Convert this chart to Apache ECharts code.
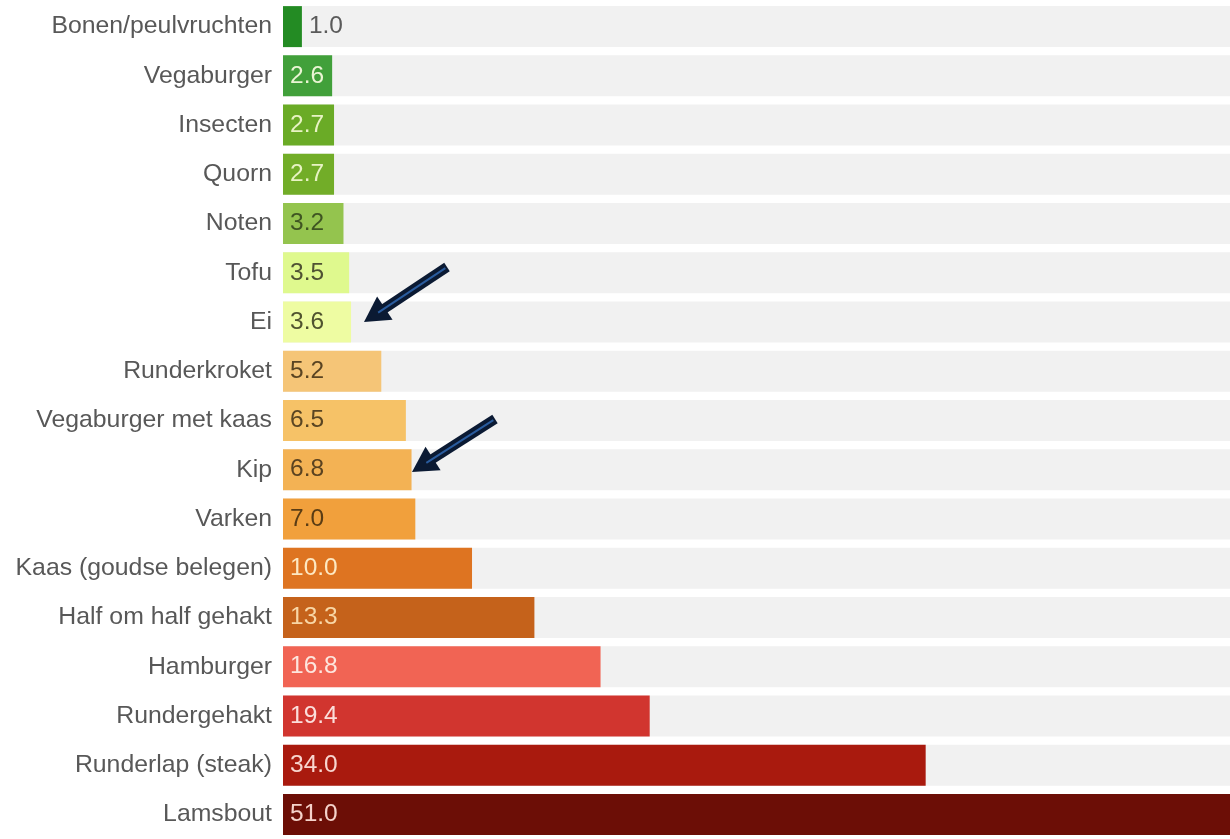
<!DOCTYPE html>
<html>
<head>
<meta charset="utf-8">
<script src="https://cdn.jsdelivr.net/npm/echarts@6/dist/echarts.min.js"></script>
<style>
  html, body { margin: 0; padding: 0; background: #ffffff; }
  #chart { width: 1230px; height: 839px; }
</style>
</head>
<body>
<div id="chart"></div>
<script>
// ---- data ----
const categories = [
  'Bonen/peulvruchten', 'Vegaburger', 'Insecten', 'Quorn', 'Noten', 'Tofu', 'Ei',
  'Runderkroket', 'Vegaburger met kaas', 'Kip', 'Varken', 'Kaas (goudse belegen)',
  'Half om half gehakt', 'Hamburger', 'Rundergehakt', 'Runderlap (steak)', 'Lamsbout'
];
const values = [1.0, 2.6, 2.7, 2.7, 3.2, 3.5, 3.6, 5.2, 6.5, 6.8, 7.0, 10.0, 13.3, 16.8, 19.4, 34.0, 51.0];

// ---- styles ----
const barColors = [
  '#238b23', '#41a03a', '#6aab26', '#72ad28', '#94c44e', '#dff98e', '#eefca2',
  '#f5c577', '#f6c267', '#f3b254', '#f1a03c', '#de7421', '#c5621b',
  '#f16454', '#d1352f', '#a91a0e', '#6c0e06'
];
const labelColors = [
  '#5a5a5a', '#eaf5d4', '#e8f3c4', '#e8f3c4', '#3f5522', '#4f5233', '#50532f',
  '#5a4422', '#5a4522', '#5a4220', '#5a3c14', '#fde8c2', '#f8d6a6',
  '#fde6de', '#fbdedb', '#f8d6cf', '#f5d2ca'
];
const outsideLabel = [true, false, false, false, false, false, false, false, false, false, false, false, false, false, false, false, false];

const FONT = "'Liberation Sans', Arial, sans-serif";

const chart = echarts.init(document.getElementById('chart'), null, { renderer: 'canvas' });

const seriesData = values.map((v, i) => ({
  value: v,
  itemStyle: { color: barColors[i] },
  label: {
    position: outsideLabel[i] ? 'right' : 'insideLeft',
    distance: 7,
    color: labelColors[i]
  }
}));

function arrow(tail, tip) {
  const dx = tip[0] - tail[0], dy = tip[1] - tail[1];
  const len = Math.sqrt(dx * dx + dy * dy);
  const ux = dx / len, uy = dy / len;
  const nx = -uy, ny = ux;
  const hl = 25, hw = 14;
  const bx = tip[0] - ux * hl, by = tip[1] - uy * hl;
  return [
    { type: 'line', shape: { x1: tail[0], y1: tail[1], x2: bx + ux * 2, y2: by + uy * 2 },
      style: { stroke: '#0b1a33', lineWidth: 10, lineCap: 'butt' }, z: 100 },
    { type: 'polygon', shape: { points: [[tip[0], tip[1]], [bx + nx * hw, by + ny * hw], [bx - nx * hw, by - ny * hw]] },
      style: { fill: '#0b1a33' }, z: 101 },
    { type: 'line', shape: { x1: tail[0] + ux * 2, y1: tail[1] + uy * 2, x2: bx + ux * 8, y2: by + uy * 8 },
      style: { stroke: '#2a5c9e', lineWidth: 2 }, z: 102 }
  ];
}

chart.setOption({
  animation: false,
  backgroundColor: '#ffffff',
  grid: { left: 283, top: 2, width: 947, height: 845, containLabel: false },
  xAxis: {
    type: 'value', min: 0, max: 50.1,
    show: false
  },
  yAxis: {
    type: 'category', data: categories, inverse: true,
    axisLine: { show: false }, axisTick: { show: false },
    axisLabel: { color: '#585858', fontSize: 24.8, fontFamily: FONT, margin: 11 }
  },
  series: [{
    type: 'bar',
    data: seriesData,
    barWidth: 41,
    clip: true,
    showBackground: true,
    backgroundStyle: { color: '#f1f1f1' },
    label: { show: true, fontSize: 24.5, fontFamily: FONT, formatter: p => p.value.toFixed(1) }
  }],
  graphic: [].concat(
    arrow([447, 267], [364, 322]),
    arrow([495, 419], [412, 472])
  )
});
</script>
</body>
</html>
